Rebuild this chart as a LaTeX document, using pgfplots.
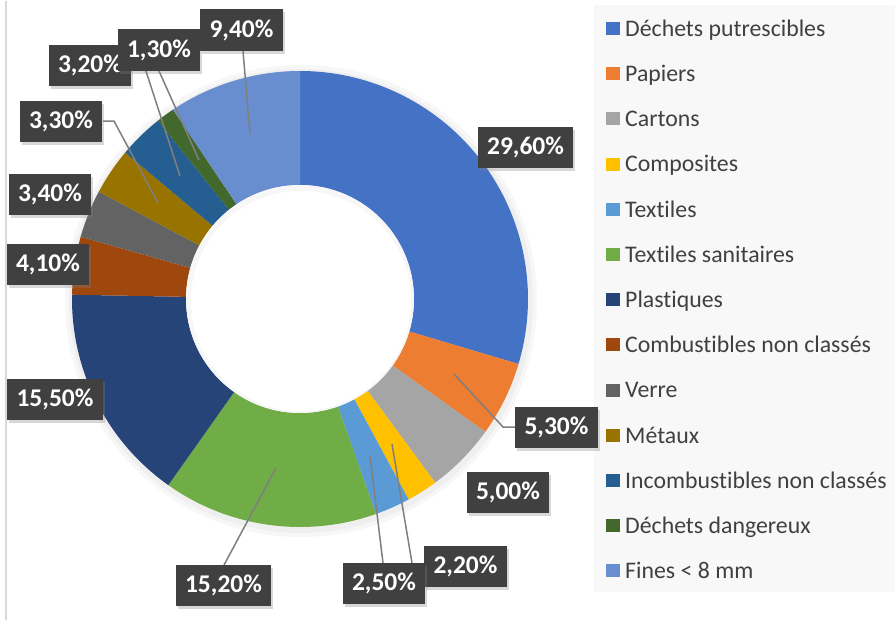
\documentclass[border=0pt]{standalone}
\usepackage{pgfplots}
\pgfplotsset{compat=1.18}
\usepackage{pgfplotstable}
\usepackage{fontspec}
\setmainfont{Carlito}[Ligatures=NoCommon]
\usetikzlibrary{shadows}

% Office palette, one colour per slice
\definecolor{c0}{HTML}{4472C4}
\definecolor{c1}{HTML}{ED7D31}
\definecolor{c2}{HTML}{A5A5A5}
\definecolor{c3}{HTML}{FFC000}
\definecolor{c4}{HTML}{5B9BD5}
\definecolor{c5}{HTML}{70AD47}
\definecolor{c6}{HTML}{264478}
\definecolor{c7}{HTML}{9E480E}
\definecolor{c8}{HTML}{636363}
\definecolor{c9}{HTML}{997300}
\definecolor{c10}{HTML}{255E91}
\definecolor{c11}{HTML}{43682B}
\definecolor{c12}{HTML}{698ED0}
\definecolor{lead}{HTML}{7F7F7F}
\definecolor{boxbg}{HTML}{404040}
\definecolor{legtxt}{HTML}{404040}
\definecolor{legbg}{HTML}{F8F8F8}
\definecolor{frame}{HTML}{D9D9D9}

\tikzset{
  lbl/.style={fill=boxbg, text=white,
    font=\bfseries\fontsize{25.5}{30}\selectfont,
    minimum height=41pt, inner xsep=9.5pt, inner ysep=0pt,
    drop shadow={shadow xshift=2pt, shadow yshift=-3pt, opacity=0.3}},
}

% share in %, label box centre (px, y downwards)
\pgfplotstableread[col sep=semicolon]{
nom;val;lx;ly
Déchets putrescibles;29.6;525.5;146
Papiers;5.3;556.5;426
Cartons;5.0;508;491.5
Composites;2.2;465.5;565
Textiles;2.5;384;582.5
Textiles sanitaires;15.2;223.5;584
Plastiques;15.5;55;398
Combustibles non classés;4.1;48;263.5
Verre;3.4;50;193
Métaux;3.3;61;120.5
Incombustibles non classés;3.2;90;64.5
Déchets dangereux;1.3;159;49
Fines < 8 mm;9.4;241.5;29
}\dechets

% cumulative angles, clockwise from the top
\xdef\acc{90}
\pgfplotsforeachungrouped \i in {0,...,12}{%
  \pgfplotstablegetelem{\i}{val}\of\dechets
  \expandafter\xdef\csname v\i\endcsname{\pgfplotsretval}%
  \pgfmathsetmacro\aend{\acc-3.6*\pgfplotsretval}%
  \expandafter\xdef\csname sa\i\endcsname{\acc}%
  \expandafter\xdef\csname ea\i\endcsname{\aend}%
  \xdef\acc{\aend}%
  \pgfplotstablegetelem{\i}{lx}\of\dechets
  \expandafter\xdef\csname lx\i\endcsname{\pgfplotsretval}%
  \pgfplotstablegetelem{\i}{ly}\of\dechets
  \expandafter\xdef\csname ly\i\endcsname{\pgfplotsretval}%
  \pgfplotstablegetelem{\i}{nom}\of\dechets
  \expandafter\xdef\csname nm\i\endcsname{\pgfplotsretval}%
}

\begin{document}
\begin{tikzpicture}
\begin{axis}[
    x=1pt, y=1pt,
    xmin=0, xmax=895, ymin=0, ymax=619,
    y dir=reverse,
    hide axis, clip=false,
]
  % background, frame line and legend area
  \fill[white] (axis cs:0,0) rectangle (axis cs:895,619);
  \draw[frame, line width=2pt] (axis cs:6,0) -- (axis cs:6,619);
  \fill[legbg] (axis cs:594,4) rectangle (axis cs:895,591);

  % soft shadow round the ring
  \fill[black, opacity=0.03, shift={(axis cs:301,300)}] circle[radius=236pt];
  \fill[black, opacity=0.03, shift={(axis cs:301,300)}] circle[radius=232pt];

  % slices
  \pgfplotsinvokeforeach{0,...,12}{%
    \edef\temp{\noexpand\fill[c#1, shift={(axis cs:300,298)}]
      (\csname sa#1\endcsname:228pt)
      arc[start angle=\csname sa#1\endcsname, end angle=\csname ea#1\endcsname, radius=228pt]
      -- (\csname ea#1\endcsname:114pt)
      arc[start angle=\csname ea#1\endcsname, end angle=\csname sa#1\endcsname, radius=114pt]
      -- cycle;}\temp
  }
  \fill[white, shift={(axis cs:300,298)}] circle[radius=114pt];
  \fill[black, opacity=0.03, shift={(axis cs:300,298)}] circle[radius=114pt];
  \fill[white, shift={(axis cs:301,300)}] circle[radius=110pt];

  % leader lines
  \begin{scope}[lead, line width=1.5pt]
    \draw (axis cs:243,50) -- (axis cs:250,133);
    \draw (axis cs:159,70) -- (axis cs:199,159);
    \draw (axis cs:132,64) -- (axis cs:144,64) -- (axis cs:180,175);
    \draw (axis cs:103,120) -- (axis cs:114,120) -- (axis cs:158,202);
    \draw (axis cs:454,373) -- (axis cs:503,426) -- (axis cs:515,426);
    \draw (axis cs:392,443) -- (axis cs:412,562);
    \draw (axis cs:370,455) -- (axis cs:383,562);
    \draw (axis cs:276,467) -- (axis cs:224,564);
  \end{scope}

  % data labels
  \pgfplotsinvokeforeach{0,...,12}{%
    \edef\temp{\noexpand\node[lbl] at (axis cs:\csname lx#1\endcsname,\csname ly#1\endcsname)
      {\noexpand\pgfmathprintnumber[fixed, fixed zerofill, precision=2, use comma,
        assume math mode=true]{\csname v#1\endcsname}\noexpand\%};}\temp
  }

  % legend
  \pgfplotsinvokeforeach{0,...,12}{%
    \pgfmathsetmacro\ry{27.5+45.2*#1}%
    \pgfmathsetmacro\rt{\ry-6.5}%
    \pgfmathsetmacro\rb{\ry+6.5}%
    \pgfmathsetmacro\rbase{\ry+7.7}%
    \edef\temp{\noexpand\fill[c#1] (axis cs:606,\rt) rectangle (axis cs:620,\rb);
      \noexpand\node[anchor=base west, inner sep=0pt, text=legtxt,
        font=\noexpand\fontsize{23.8}{28}\noexpand\selectfont]
        at (axis cs:625,\rbase) {\csname nm#1\endcsname};}\temp
  }
\end{axis}
\end{tikzpicture}
\end{document}
